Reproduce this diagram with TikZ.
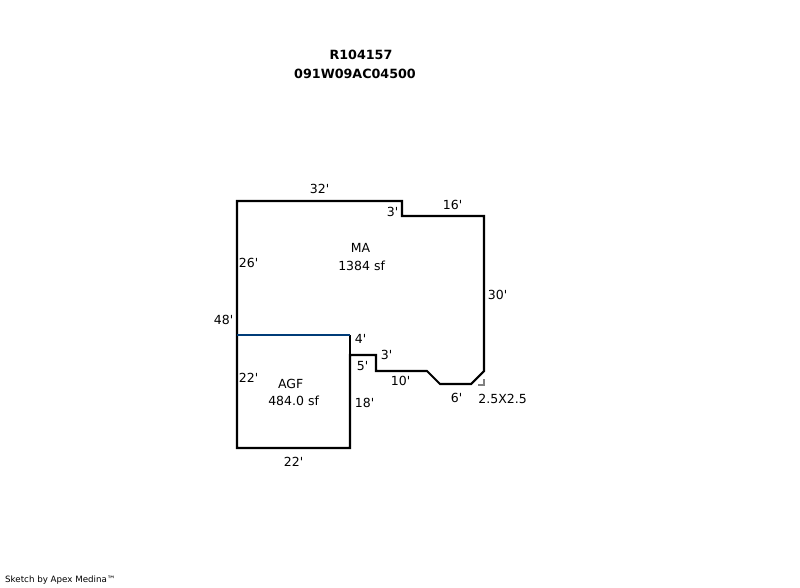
\documentclass[tikz,border=0pt]{standalone}
\usepackage{fontspec}
\newfontfamily\sketchfont{DejaVu Sans}
\begin{document}
\begin{tikzpicture}[x=1pt, y=-1pt, >=stealth,
  wall/.style={line width=2.1pt, miter limit=4},
  dim/.style={font=\sketchfont\fontsize{12.5}{14}\selectfont, inner sep=0pt, xshift=0.6pt, yshift=-0.6pt},
  heading/.style={font=\sketchfont\bfseries\fontsize{12.7}{14}\selectfont, inner sep=0pt, yshift=-0.6pt}]

\useasboundingbox (0,0) rectangle (800,587);

% corners of the outline
\foreach \m/\x/\y in {a/237/201,b/402/201,c/402/216,d/484/216,e/484/371,f/471/384,g/440/384,
    h/427/371,i/376/371,j/376/355,k/350/355,l/350/448,m/237/448,n/237/335,o/350/335}
  \coordinate (corner-\m) at (\x,\y);

\coordinate (tick-1) at (484,379);
\coordinate (tick-2) at (484,385);
\coordinate (tick-3) at (478,385);

\draw [wall] (corner-a) -- (corner-b) -- (corner-c) -- (corner-d) -- (corner-e) -- (corner-f)
  -- (corner-g) -- (corner-h) -- (corner-i) -- (corner-j) -- (corner-k) -- (corner-l)
  -- (corner-m) -- cycle;
\draw [wall] (corner-o) -- (corner-k);
\draw [wall,color={rgb,255:red,0;green,60;blue,120}] (corner-n) -- (corner-o);
\draw [line width=1.2pt,gray] (tick-1) -- (tick-2) -- (tick-3);

% lengths along the walls
\foreach \l/\x/\y [count=\i] in {32'/319/188,3'/392/211,16'/452/204,26'/248/262,30'/497/294,
    48'/223/319,4'/360/338,3'/386/354,5'/362/365,10'/400/380,6'/456/397,22'/248/377,
    18'/364/402,22'/293/461}
  \node [dim] (length-\i) at (\x,\y) {\l};

\node [dim] (ell) at (502,398) {2.5X2.5};

\node [dim] (ma) at (360,247) {MA};
\node [dim] (ma-area) at (361,265) {1384 sf};
\node [dim] (agf) at (290,383) {AGF};
\node [dim] (agf-area) at (293,400) {484.0 sf};

\node [heading] (title-1) at (361,54) {R104157};
\node [heading] (title-2) at (355,73) {091W09AC04500};

\node [inner sep=0pt,anchor=west,font=\sketchfont\fontsize{8.7}{10}\selectfont] (credit) at (5,580) {Sketch by Apex Medina™};

\end{tikzpicture}
\end{document}
